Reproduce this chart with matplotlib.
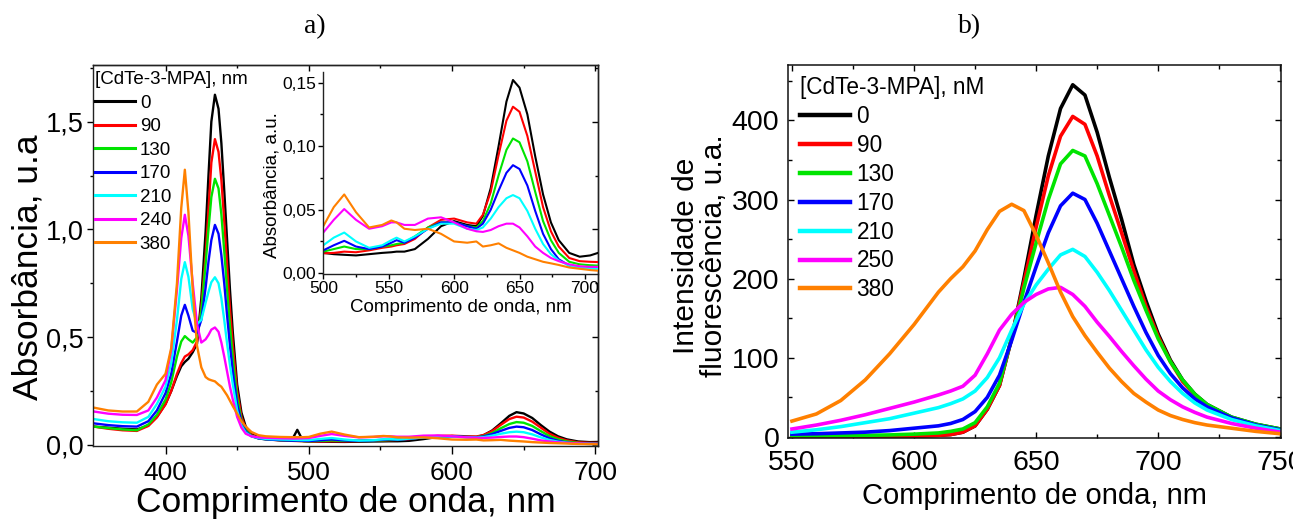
import matplotlib
matplotlib.use("Agg")
import matplotlib.pyplot as plt
from matplotlib.ticker import MultipleLocator, FuncFormatter, FixedLocator

plt.rcParams['font.family'] = ['Liberation Sans', 'DejaVu Sans']

# ---------------- data: absorbance (panel a) ----------------
abs_wl = [350, 360, 370, 380, 388, 394, 400, 404, 408, 411, 413.5, 416, 419, 422, 425, 428, 430, 432,
          434.5, 437, 439, 441, 443, 445, 447, 450, 453, 456, 460, 465, 470, 480, 488, 492, 496,
          500, 508, 516, 525, 535, 545, 552, 556, 562, 570, 580, 590, 600, 610, 617, 622, 628, 634,
          640, 645, 650, 656, 662, 668, 674, 680, 688, 696, 704, 710]

abs_0 = [0.085, 0.080, 0.075, 0.072, 0.090, 0.130, 0.190, 0.250, 0.320, 0.365, 0.385, 0.400, 0.430, 0.470,
         0.680, 0.990, 1.250, 1.500, 1.625, 1.560, 1.400, 1.180, 0.950, 0.720, 0.520, 0.280, 0.150, 0.085,
         0.050, 0.035, 0.028, 0.022, 0.020, 0.070, 0.018,
         0.016, 0.015, 0.0145, 0.014, 0.015, 0.016, 0.0165, 0.017, 0.017, 0.019, 0.027, 0.037, 0.041, 0.038,
         0.037, 0.045, 0.067, 0.100, 0.135, 0.152, 0.146, 0.125, 0.092, 0.062, 0.040, 0.026, 0.016, 0.013,
         0.014, 0.016]
abs_90 = [0.085, 0.075, 0.068, 0.065, 0.088, 0.128, 0.188, 0.250, 0.330, 0.380, 0.410, 0.420, 0.440, 0.480,
          0.640, 0.880, 1.090, 1.310, 1.419, 1.360, 1.230, 1.040, 0.830, 0.630, 0.460, 0.250, 0.130, 0.075,
          0.045, 0.032, 0.026, 0.021, 0.019, 0.018, 0.017,
          0.0157, 0.016, 0.017, 0.0165, 0.018, 0.020, 0.021, 0.022, 0.023, 0.027, 0.036, 0.042, 0.043, 0.040,
          0.039, 0.046, 0.064, 0.093, 0.120, 0.131, 0.127, 0.108, 0.080, 0.052, 0.033, 0.021, 0.012, 0.0095,
          0.009, 0.0088]
abs_130 = [0.085, 0.078, 0.072, 0.068, 0.095, 0.140, 0.210, 0.290, 0.410, 0.480, 0.505, 0.490, 0.475, 0.500,
           0.620, 0.840, 1.000, 1.150, 1.235, 1.190, 1.070, 0.900, 0.720, 0.550, 0.400, 0.220, 0.115, 0.068,
           0.042, 0.030, 0.026, 0.022, 0.020, 0.019, 0.018,
           0.017, 0.019, 0.021, 0.019, 0.019, 0.021, 0.022, 0.023, 0.024, 0.029, 0.036, 0.040, 0.040, 0.037,
           0.036, 0.041, 0.055, 0.077, 0.097, 0.106, 0.103, 0.088, 0.064, 0.041, 0.026, 0.016, 0.009, 0.007,
           0.0063, 0.006]
abs_170 = [0.100, 0.092, 0.087, 0.085, 0.110, 0.160, 0.240, 0.330, 0.480, 0.600, 0.650, 0.600, 0.530, 0.520,
           0.580, 0.730, 0.850, 0.950, 1.021, 0.980, 0.880, 0.750, 0.600, 0.460, 0.340, 0.190, 0.105, 0.062,
           0.040, 0.030, 0.026, 0.022, 0.020, 0.020, 0.019,
           0.018, 0.022, 0.0255, 0.021, 0.019, 0.021, 0.024, 0.026, 0.024, 0.028, 0.035, 0.040, 0.040, 0.037,
           0.035, 0.039, 0.050, 0.065, 0.079, 0.085, 0.082, 0.069, 0.049, 0.031, 0.019, 0.011, 0.006, 0.0045,
           0.004, 0.004]
abs_210 = [0.120, 0.110, 0.105, 0.103, 0.130, 0.190, 0.270, 0.380, 0.580, 0.770, 0.848, 0.780, 0.630, 0.560,
           0.580, 0.660, 0.710, 0.755, 0.778, 0.750, 0.680, 0.580, 0.470, 0.370, 0.280, 0.160, 0.090, 0.057,
           0.040, 0.032, 0.028, 0.025, 0.024, 0.023, 0.022,
           0.022, 0.028, 0.032, 0.025, 0.020, 0.022, 0.026, 0.028, 0.025, 0.029, 0.035, 0.039, 0.039, 0.035,
           0.034, 0.036, 0.043, 0.052, 0.059, 0.0615, 0.059, 0.049, 0.035, 0.023, 0.015, 0.010, 0.006, 0.0045,
           0.0038, 0.0035]
abs_240 = [0.155, 0.145, 0.140, 0.139, 0.160, 0.220, 0.300, 0.440, 0.720, 0.960, 1.068, 0.970, 0.750, 0.560,
           0.475, 0.490, 0.510, 0.535, 0.545, 0.525, 0.475, 0.410, 0.340, 0.270, 0.210, 0.130, 0.080, 0.052,
           0.040, 0.035, 0.033, 0.031, 0.030, 0.030, 0.031,
           0.032, 0.042, 0.0505, 0.042, 0.035, 0.037, 0.040, 0.040, 0.038, 0.038, 0.043, 0.044, 0.040, 0.035,
           0.033, 0.0325, 0.034, 0.037, 0.039, 0.039, 0.036, 0.029, 0.021, 0.016, 0.012, 0.0095, 0.007, 0.0055,
           0.005, 0.005]
abs_380 = [0.173, 0.160, 0.155, 0.155, 0.200, 0.280, 0.330, 0.450, 0.750, 1.100, 1.277, 1.080, 0.720, 0.460,
           0.360, 0.315, 0.305, 0.300, 0.295, 0.280, 0.270, 0.250, 0.230, 0.205, 0.180, 0.145, 0.110, 0.085,
           0.060, 0.045, 0.040, 0.037, 0.036, 0.036, 0.036,
           0.037, 0.052, 0.062, 0.048, 0.036, 0.038, 0.0415, 0.040, 0.035, 0.034, 0.035, 0.031, 0.025, 0.024,
           0.025, 0.021, 0.022, 0.0235, 0.020, 0.018, 0.016, 0.013, 0.011, 0.009, 0.0078, 0.0065, 0.0045,
           0.0035, 0.0025, 0.002]

abs_labels = ['0', '90', '130', '170', '210', '240', '380']
abs_series = [abs_0, abs_90, abs_130, abs_170, abs_210, abs_240, abs_380]

# ---------------- data: fluorescence (panel b) ----------------
fl_wl = [550, 560, 570, 580, 590, 600, 610, 615, 620, 625, 630, 635, 640, 645, 650, 655, 660, 665, 670,
         675, 680, 685, 690, 695, 700, 705, 710, 715, 720, 730, 740, 750]
fl_0 = [0.5, 0.5, 0.5, 0.5, 0.7, 1.0, 2, 3, 6, 14, 35, 65, 125, 200, 280, 355, 415, 445, 432,
        385, 328, 275, 218, 172, 130, 97, 72, 54, 41, 25, 16, 10]
fl_90 = [0.5, 0.5, 0.5, 0.5, 0.7, 1.0, 2, 3, 6, 14, 35, 65, 125, 195, 265, 330, 380, 405, 395,
         355, 305, 258, 210, 165, 127, 95, 70, 53, 40, 24, 15, 9]
fl_130 = [1.5, 1.5, 1.8, 2, 2.5, 3.5, 5, 7, 10, 18, 38, 68, 125, 188, 245, 300, 345, 362, 355,
          320, 280, 240, 198, 160, 124, 95, 72, 54, 41, 25, 16, 10]
fl_170 = [3.5, 4, 5, 6, 8, 11, 14, 17, 22, 32, 50, 78, 122, 170, 215, 258, 292, 308, 300,
          270, 235, 200, 165, 132, 103, 80, 62, 48, 38, 24, 15, 9]
fl_210 = [6, 9, 13, 18, 23, 30, 37, 42, 48, 58, 75, 100, 135, 168, 192, 212, 230, 237, 228,
          208, 185, 160, 135, 110, 88, 70, 55, 43, 34, 22, 14, 8]
fl_250 = [10, 15, 21, 28, 36, 44, 53, 58, 64, 78, 105, 135, 155, 170, 180, 187, 189, 180, 165,
          145, 127, 108, 90, 73, 58, 47, 38, 31, 25, 17, 11, 6]
fl_380 = [20, 29, 46, 72, 105, 142, 183, 200, 215, 235, 262, 285, 294, 286, 255, 220, 183, 152, 128,
          107, 87, 70, 55, 44, 34, 27, 22, 18, 15, 11, 7, 4]

fl_labels = ['0', '90', '130', '170', '210', '250', '380']
fl_series = [fl_0, fl_90, fl_130, fl_170, fl_210, fl_250, fl_380]

colors = ['#000000', '#FF0000', '#00E400', '#0000FF', '#00FFFF', '#FF00FF', '#FF8000']

# ---------------- figure ----------------
W, H = 1293, 519
fig = plt.figure(figsize=(W / 100, H / 100), dpi=100)


def box(l, t, r, b):
    return [l / W, (H - b) / H, (r - l) / W, (b - t) / H]


def comma(fmt):
    return FuncFormatter(lambda v, p: (fmt % v).replace('.', ','))


# ---- panel a main ----
ax1 = fig.add_axes(box(93.3, 65, 598, 446))
for s, c, lab in zip(abs_series, colors, abs_labels):
    ax1.plot(abs_wl, s, color=c, lw=1.7, label=lab)
ax1.set_xlim(349.6, 701.9)
ax1.set_ylim(-0.005, 1.763)
ax1.xaxis.set_major_locator(FixedLocator([400, 500, 600, 700]))
ax1.xaxis.set_minor_locator(FixedLocator([450, 550, 650]))
ax1.yaxis.set_major_locator(MultipleLocator(0.5))
ax1.yaxis.set_minor_locator(MultipleLocator(0.25))
ax1.yaxis.set_major_formatter(comma('%.1f'))
ax1.tick_params(axis='x', which='major', direction='out', length=5.5, width=1, labelsize=19, pad=5.5)
ax1.tick_params(axis='x', which='minor', direction='out', length=3, width=1)
ax1.tick_params(axis='y', which='major', direction='out', length=4, width=1, labelsize=19.5, pad=3)
ax1.tick_params(axis='y', which='minor', direction='out', length=2.4, width=1)
for sp in ax1.spines.values():
    sp.set_linewidth(1.0)
    sp.set_color('#222222')
sx = ax1.secondary_xaxis('top')
sx.xaxis.set_major_locator(FixedLocator([400, 500, 600, 700]))
sx.xaxis.set_minor_locator(FixedLocator([450, 550, 650]))
sx.tick_params(which='major', direction='in', length=4, width=1, labeltop=False)
sx.tick_params(which='minor', direction='in', length=2.5, width=1)
sy = ax1.secondary_yaxis('right')
sy.yaxis.set_major_locator(MultipleLocator(0.5))
sy.yaxis.set_minor_locator(MultipleLocator(0.25))
sy.tick_params(which='major', direction='in', length=4, width=1, labelright=False)
sy.tick_params(which='minor', direction='in', length=2.5, width=1)
for s in (sx, sy):
    for sp in s.spines.values():
        sp.set_linewidth(1.0)
        sp.set_color('#222222')
ax1.set_xlabel('Comprimento de onda, nm', fontsize=25.5)
ax1.xaxis.set_label_coords(0.5, -0.105)
ax1.set_ylabel('Absorbância, u.a', fontsize=25.5)
ax1.yaxis.set_label_coords(-0.097, 0.4685)
leg1 = ax1.legend(title='[CdTe-3-MPA], nm', loc='upper left', bbox_to_anchor=(0.003, 0.984),
                  frameon=False, fontsize=13.5, title_fontsize=13.5, handlelength=2.13,
                  handletextpad=0.27, labelspacing=0.34, borderaxespad=0, borderpad=0)
leg1._legend_box.align = 'left'
for ln in leg1.get_lines():
    ln.set_linewidth(2.2)

# ---- panel a inset ----
axi = fig.add_axes(box(323.3, 72, 598, 274))
axi.patch.set_alpha(0)
for s, c in zip(abs_series, colors):
    axi.plot(abs_wl, s, color=c, lw=1.5)
axi.set_xlim(500, 710)
axi.set_ylim(-0.0006, 0.1583)
axi.spines['top'].set_visible(False)
axi.spines['right'].set_visible(False)
axi.xaxis.set_major_locator(MultipleLocator(50))
axi.xaxis.set_minor_locator(MultipleLocator(25))
axi.yaxis.set_major_locator(FixedLocator([0.0, 0.05, 0.10, 0.15]))
axi.yaxis.set_minor_locator(FixedLocator([0.025, 0.075, 0.125]))
axi.yaxis.set_major_formatter(comma('%.2f'))
axi.tick_params(which='major', direction='out', length=3.5, width=1, labelsize=12.5, pad=1.5)
axi.tick_params(which='minor', direction='out', length=2, width=1)
for sp in axi.spines.values():
    sp.set_linewidth(1.0)
    sp.set_color('#222222')
axi.set_xlabel('Comprimento de onda, nm', fontsize=13.5)
axi.xaxis.set_label_coords(0.5, -0.125)
axi.set_ylabel('Absorbância, a.u.', fontsize=13.5)
axi.yaxis.set_label_coords(-0.154, 0.44)

# ---- panel b ----
ax2 = fig.add_axes(box(788.3, 65, 1281, 437.7))
for s, c, lab in zip(fl_series, colors, fl_labels):
    ax2.plot(fl_wl, s, color=c, lw=2.6, label=lab)
ax2.set_xlim(548.5, 750.3)
ax2.set_ylim(-1, 470)
ax2.xaxis.set_major_locator(MultipleLocator(50))
ax2.xaxis.set_minor_locator(MultipleLocator(25))
ax2.yaxis.set_major_locator(MultipleLocator(100))
ax2.yaxis.set_minor_locator(MultipleLocator(50))
ax2.tick_params(which='major', direction='in', length=4.3, width=1, labelsize=20.5, top=True, right=True)
ax2.tick_params(which='minor', direction='in', length=2.9, width=1, top=True, right=True)
ax2.tick_params(axis='x', pad=9)
ax2.tick_params(axis='y', pad=6.5)
for sp in ax2.spines.values():
    sp.set_linewidth(1.1)
    sp.set_color('#111111')
ax2.set_xlabel('Comprimento de onda, nm', fontsize=21)
ax2.xaxis.set_label_coords(0.5, -0.12)
ax2.set_ylabel('Intensidade de\nfluorescência, u.a.', fontsize=21.5, linespacing=1.02)
ax2.yaxis.set_label_coords(-0.122, 0.4875)
leg2 = ax2.legend(title='[CdTe-3-MPA], nM', loc='upper left', bbox_to_anchor=(0.0237, 0.970),
                  frameon=False, fontsize=16.3, title_fontsize=16.3, handlelength=2.2,
                  handletextpad=0.3, labelspacing=0.26, borderaxespad=0, borderpad=0)
leg2._legend_box.align = 'left'
for ln in leg2.get_lines():
    ln.set_linewidth(3.2)

# ---- panel titles ----
fig.text(315 / W, 1 - 27 / H, 'a)', ha='center', va='center', fontsize=20, family='Liberation Serif')
fig.text(970 / W, 1 - 27 / H, 'b)', ha='center', va='center', fontsize=20, family='Liberation Serif')

fig.savefig('out.png', dpi=100)
